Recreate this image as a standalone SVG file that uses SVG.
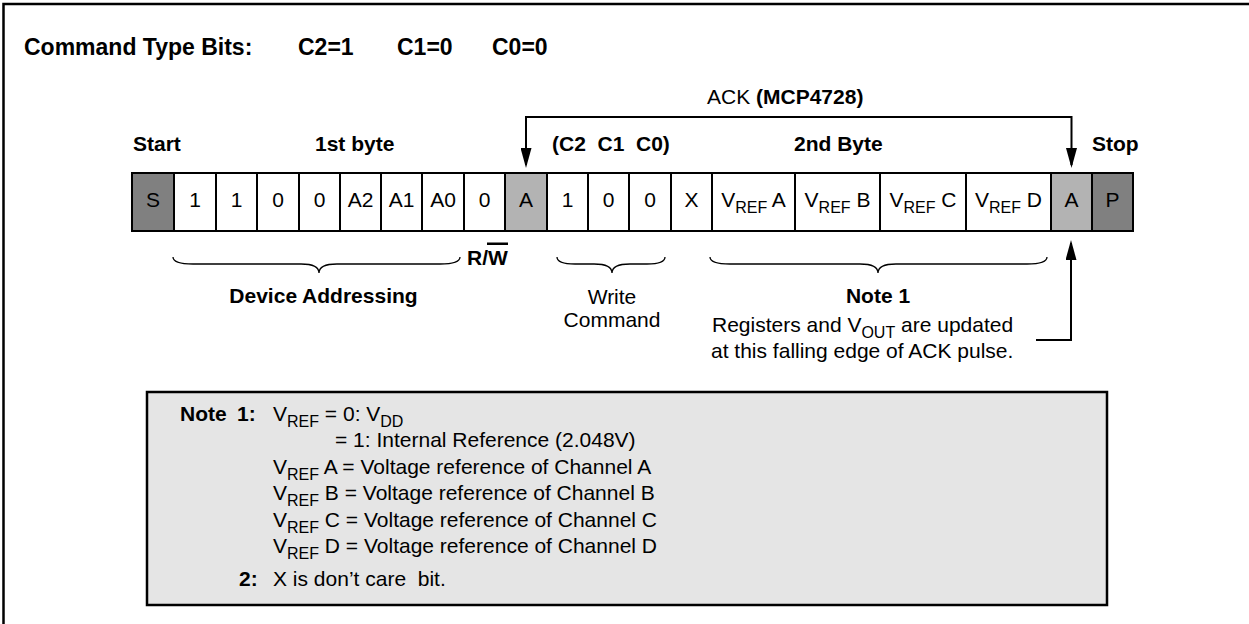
<svg xmlns="http://www.w3.org/2000/svg" width="1249" height="624" viewBox="0 0 1249 624">
<defs>
<style>
text{font-family:"Liberation Sans",Arial,Helvetica,sans-serif;fill:#000;font-size:21px}
.b{font-weight:bold}
.c{text-anchor:middle}
.cell rect{stroke:#000;stroke-width:2}
.w{fill:#fff}.dk{fill:#808080}.lt{fill:#b3b3b3}
.conn{fill:none;stroke:#000;stroke-width:2}
.brace{fill:none;stroke:#000;stroke-width:1.3}
.sub{font-size:16px}
</style>
<marker id="ah" viewBox="0 0 20 11" refX="17" refY="5.5" markerWidth="20" markerHeight="11" markerUnits="userSpaceOnUse" orient="auto-start-reverse">
<path d="M0,0 L20,5.5 L0,11 z" fill="#000"/>
</marker>
</defs>
<rect width="1249" height="624" fill="#fff"/>
<path d="M3.5,630 V4 H1260" fill="none" stroke="#000" stroke-width="2.5"/>

<g id="title">
<text class="b" font-size="23" y="55" style="font-size:23px"><tspan x="24">Command Type Bits:</tspan><tspan x="298">C2=1</tspan><tspan x="397">C1=0</tspan><tspan x="492">C0=0</tspan></text>
</g>

<g id="labels">
<text class="b" x="133" y="151">Start</text>
<text class="b" x="315" y="151">1st byte</text>
<text class="b" x="552" y="151">(C2&#160; C1&#160; C0)</text>
<text class="b" x="794" y="151">2nd Byte</text>
<text class="b" x="1092" y="151">Stop</text>
</g>

<g id="ack-label">
<text x="707" y="104">ACK <tspan class="b">(MCP4728)</tspan></text>
</g>

<g id="cell-S" class="cell"><rect class="dk" x="132" y="173" width="42" height="58"/><text class="c" x="153" y="207">S</text></g>
<g id="cell-b7" class="cell"><rect class="w" x="174" y="173" width="42" height="58"/><text class="c" x="195" y="207">1</text></g>
<g id="cell-b6" class="cell"><rect class="w" x="216" y="173" width="41" height="58"/><text class="c" x="236.5" y="207">1</text></g>
<g id="cell-b5" class="cell"><rect class="w" x="257" y="173" width="42" height="58"/><text class="c" x="278" y="207">0</text></g>
<g id="cell-b4" class="cell"><rect class="w" x="299" y="173" width="41" height="58"/><text class="c" x="319.5" y="207">0</text></g>
<g id="cell-A2" class="cell"><rect class="w" x="340" y="173" width="41" height="58"/><text class="c" x="360.5" y="207">A2</text></g>
<g id="cell-A1" class="cell"><rect class="w" x="381" y="173" width="41" height="58"/><text class="c" x="401.5" y="207">A1</text></g>
<g id="cell-A0" class="cell"><rect class="w" x="422" y="173" width="42" height="58"/><text class="c" x="443" y="207">A0</text></g>
<g id="cell-RW" class="cell"><rect class="w" x="464" y="173" width="41" height="58"/><text class="c" x="484.5" y="207">0</text></g>
<g id="cell-ack1" class="cell"><rect class="lt" x="505" y="173" width="42" height="58"/><text class="c" x="526" y="207">A</text></g>
<g id="cell-C2" class="cell"><rect class="w" x="547" y="173" width="41" height="58"/><text class="c" x="567.5" y="207">1</text></g>
<g id="cell-C1" class="cell"><rect class="w" x="588" y="173" width="41" height="58"/><text class="c" x="608.5" y="207">0</text></g>
<g id="cell-C0" class="cell"><rect class="w" x="629" y="173" width="42" height="58"/><text class="c" x="650" y="207">0</text></g>
<g id="cell-X" class="cell"><rect class="w" x="671" y="173" width="41" height="58"/><text class="c" x="691.5" y="207">X</text></g>
<g id="cell-VA" class="cell"><rect class="w" x="712" y="173" width="83" height="58"/><text class="c" x="753.5" y="207">V<tspan class="sub" dy="6">REF</tspan><tspan dy="-6"> A</tspan></text></g>
<g id="cell-VB" class="cell"><rect class="w" x="795" y="173" width="85" height="58"/><text class="c" x="837.5" y="207">V<tspan class="sub" dy="6">REF</tspan><tspan dy="-6"> B</tspan></text></g>
<g id="cell-VC" class="cell"><rect class="w" x="880" y="173" width="86" height="58"/><text class="c" x="923" y="207">V<tspan class="sub" dy="6">REF</tspan><tspan dy="-6"> C</tspan></text></g>
<g id="cell-VD" class="cell"><rect class="w" x="966" y="173" width="85" height="58"/><text class="c" x="1008.5" y="207">V<tspan class="sub" dy="6">REF</tspan><tspan dy="-6"> D</tspan></text></g>
<g id="cell-ack2" class="cell"><rect class="lt" x="1051" y="173" width="41" height="58"/><text class="c" x="1071.5" y="207">A</text></g>
<g id="cell-P" class="cell"><rect class="dk" x="1092" y="173" width="41" height="58"/><text class="c" x="1112.5" y="207">P</text></g>

<g id="connectors">
<path class="conn" d="M526,165 V117 H1071.5 V165" marker-start="url(#ah)" marker-end="url(#ah)"/>
<path class="conn" d="M1036,340 H1071 V243" marker-end="url(#ah)"/>
</g>

<g id="braces">
<path class="brace" d="M173,257 Q173,264 193,264 H301 Q319,264 319,273 Q319,264 337,264 H440 Q460,264 460,257"/>
<path class="brace" d="M557,257 Q557,264 575,264 H594 Q612,264 612,273 Q612,264 630,264 H647 Q665,264 665,257"/>
<path class="brace" d="M710,257 Q710,264 730,264 H860 Q878,264 878,273 Q878,264 896,264 H1027 Q1047,264 1047,257"/>
</g>

<g id="rw-label">
<text class="b" x="467" y="265">R/W</text>
<rect x="487" y="242.5" width="21" height="2.5" fill="#000"/>
</g>

<g id="device-addressing"><text class="b c" x="323.5" y="303">Device Addressing</text></g>
<g id="write-command"><text class="c" x="612" y="304">Write</text><text class="c" x="612" y="327">Command</text></g>
<g id="note1-label">
<text class="b c" x="878" y="303">Note 1</text>
<text x="712" y="332">Registers and V<tspan class="sub" dy="6">OUT</tspan><tspan dy="-6"> are updated</tspan></text>
<text x="711" y="358">at this falling edge of ACK pulse.</text>
</g>

<g id="notes">
<rect x="147" y="392" width="960" height="213" fill="#e5e5e5" stroke="#000" stroke-width="2.5"/>
<text class="b" y="421"><tspan x="180">Note</tspan><tspan x="237">1:</tspan></text>
<text x="273" y="421">V<tspan class="sub" dy="6">REF</tspan><tspan dy="-6"> = 0: V</tspan><tspan class="sub" dy="6">DD</tspan></text>
<text x="335" y="447">= 1: Internal Reference (2.048V)</text>
<text x="273" y="474">V<tspan class="sub" dy="6">REF</tspan><tspan dy="-6"> A = Voltage reference of Channel A</tspan></text>
<text x="273" y="500">V<tspan class="sub" dy="6">REF</tspan><tspan dy="-6"> B = Voltage reference of Channel B</tspan></text>
<text x="273" y="527">V<tspan class="sub" dy="6">REF</tspan><tspan dy="-6"> C = Voltage reference of Channel C</tspan></text>
<text x="273" y="553">V<tspan class="sub" dy="6">REF</tspan><tspan dy="-6"> D = Voltage reference of Channel D</tspan></text>
<text class="b" x="239" y="586">2:</text>
<text x="273" y="586">X is don’t care&#160; bit.</text>
</g>
</svg>
